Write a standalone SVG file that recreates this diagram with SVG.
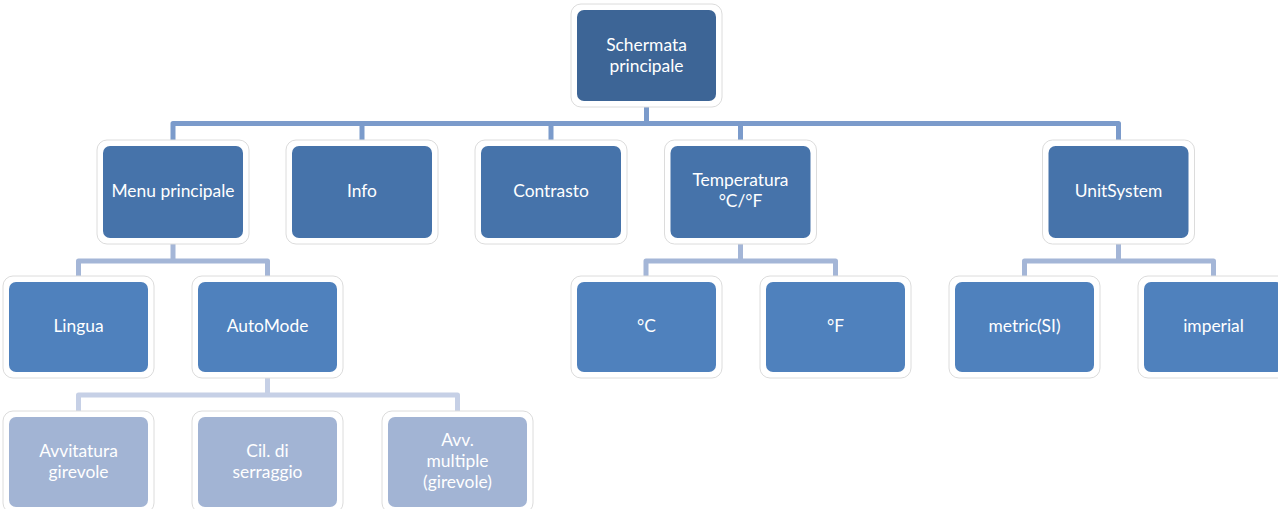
<svg xmlns="http://www.w3.org/2000/svg" width="1278" height="509" viewBox="0 0 1278 509">
<style>
.frame{fill:#ffffff;stroke:#dcdcdc;stroke-width:1}
.l1{fill:#3d6596}
.l2{fill:#4673aa}
.l3{fill:#4f81bd}
.l4{fill:#a2b4d4}
.t{font-family:Lato,"Open Sans","Liberation Sans",sans-serif;font-size:17.4px;fill:#ffffff;text-anchor:middle}
.c{fill:none;stroke-width:5;stroke-linejoin:round}
.c1{stroke:#7b9bcb}
.c2{stroke:#a4b6d7}
.c3{stroke:#c6d0e6}
</style>
<rect width="1278" height="509" fill="#ffffff"/>
<g id="connectors">
<path class="c c1" d="M646.5,101 V123.5 M173,143 V123.5 H1118.5 V143 M362,123.5 V143 M551,123.5 V143 M740.5,123.5 V143"/>
<path class="c c2" d="M173,238 V261 M78.5,279 V261 H267.5 V279"/>
<path class="c c2" d="M740.5,238 V261 M646,279 V261 H835.5 V279"/>
<path class="c c2" d="M1118.5,238 V261 M1024.5,279 V261 H1213.5 V279"/>
<path class="c c3" d="M267.5,372 V395 M78.5,413 V395 H457.5 V413"/>
</g>
<g id="n-schermata">
<rect class="frame" x="571" y="4" width="151" height="103" rx="10"/>
<rect class="l1" x="577" y="10" width="139" height="91" rx="7"/>
<text class="t" x="646.5" y="51">Schermata</text>
<text class="t" x="646.5" y="72">principale</text>
</g>
<g id="n-menu">
<rect class="frame" x="97" y="140" width="152" height="104" rx="10"/>
<rect class="l2" x="103" y="146" width="140" height="92" rx="7"/>
<text class="t" x="173" y="197">Menu principale</text>
</g>
<g id="n-info">
<rect class="frame" x="286" y="140" width="152" height="104" rx="10"/>
<rect class="l2" x="292" y="146" width="140" height="92" rx="7"/>
<text class="t" x="362" y="197">Info</text>
</g>
<g id="n-contrasto">
<rect class="frame" x="475" y="140" width="152" height="104" rx="10"/>
<rect class="l2" x="481" y="146" width="140" height="92" rx="7"/>
<text class="t" x="551" y="197">Contrasto</text>
</g>
<g id="n-temperatura">
<rect class="frame" x="664.5" y="140" width="152" height="104" rx="10"/>
<rect class="l2" x="670.5" y="146" width="140" height="92" rx="7"/>
<text class="t" x="740.5" y="186">Temperatura</text>
<text class="t" x="740.5" y="207">°C/°F</text>
</g>
<g id="n-unitsystem">
<rect class="frame" x="1042.5" y="140" width="152" height="104" rx="10"/>
<rect class="l2" x="1048.5" y="146" width="140" height="92" rx="7"/>
<text class="t" x="1118.5" y="197">UnitSystem</text>
</g>
<g id="n-lingua">
<rect class="frame" x="3" y="276" width="151" height="102" rx="10"/>
<rect class="l3" x="9" y="282" width="139" height="90" rx="7"/>
<text class="t" x="78.5" y="332">Lingua</text>
</g>
<g id="n-automode">
<rect class="frame" x="192" y="276" width="151" height="102" rx="10"/>
<rect class="l3" x="198" y="282" width="139" height="90" rx="7"/>
<text class="t" x="267.5" y="332">AutoMode</text>
</g>
<g id="n-c">
<rect class="frame" x="571" y="276" width="151" height="102" rx="10"/>
<rect class="l3" x="577" y="282" width="139" height="90" rx="7"/>
<text class="t" x="646.5" y="332">°C</text>
</g>
<g id="n-f">
<rect class="frame" x="760" y="276" width="151" height="102" rx="10"/>
<rect class="l3" x="766" y="282" width="139" height="90" rx="7"/>
<text class="t" x="835.5" y="332">°F</text>
</g>
<g id="n-metric">
<rect class="frame" x="949" y="276" width="151" height="102" rx="10"/>
<rect class="l3" x="955" y="282" width="139" height="90" rx="7"/>
<text class="t" x="1024.5" y="332">metric(SI)</text>
</g>
<g id="n-imperial">
<rect class="frame" x="1138" y="276" width="151" height="102" rx="10"/>
<rect class="l3" x="1144" y="282" width="139" height="90" rx="7"/>
<text class="t" x="1213.5" y="332">imperial</text>
</g>
<g id="n-avvitatura">
<rect class="frame" x="3" y="411" width="151" height="102" rx="10"/>
<rect class="l4" x="9" y="417" width="139" height="90" rx="7"/>
<text class="t" x="78.5" y="457">Avvitatura</text>
<text class="t" x="78.5" y="478">girevole</text>
</g>
<g id="n-cil">
<rect class="frame" x="192" y="411" width="151" height="102" rx="10"/>
<rect class="l4" x="198" y="417" width="139" height="90" rx="7"/>
<text class="t" x="267.5" y="457">Cil. di</text>
<text class="t" x="267.5" y="478">serraggio</text>
</g>
<g id="n-avv-multiple">
<rect class="frame" x="382" y="411" width="151" height="102" rx="10"/>
<rect class="l4" x="388" y="417" width="139" height="90" rx="7"/>
<text class="t" x="457.5" y="446">Avv.</text>
<text class="t" x="457.5" y="467">multiple</text>
<text class="t" x="457.5" y="488">(girevole)</text>
</g>
</svg>
